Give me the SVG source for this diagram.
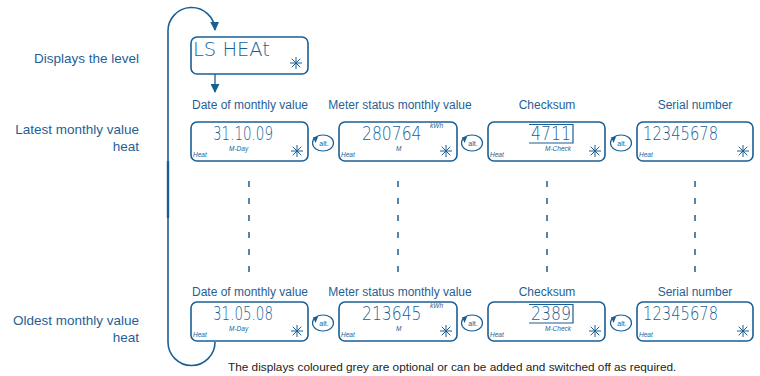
<svg xmlns="http://www.w3.org/2000/svg" xmlns:xlink="http://www.w3.org/1999/xlink" width="760" height="376" viewBox="0 0 760 376">
<style>
.lbl{font-family:"Liberation Sans",Arial,sans-serif;font-size:12px;fill:#1f5f96;text-anchor:middle}
.side{font-family:"Liberation Sans",Arial,sans-serif;font-size:13.5px;fill:#1f5f96;text-anchor:end}
.cap{font-family:"Liberation Sans",Arial,sans-serif;font-size:11.8px;fill:#222}
.box{fill:#fff;stroke:#1a5f94;stroke-width:1.6}
.lcd{font-family:"DejaVu Sans","Liberation Sans",sans-serif;font-size:20px;fill:#1a5f94;font-weight:200}
.sm{font-family:"Liberation Sans",Arial,sans-serif;font-size:6.5px;font-style:italic;fill:#1a5f94}
.ln{stroke:#1a5f94;fill:none}
.dash{stroke:#1a5f94;stroke-width:1.5;stroke-dasharray:6 11}
</style>
<defs>
<marker id="ah" viewBox="0 0 10 10" refX="9" refY="5" markerWidth="9" markerHeight="9" markerUnits="userSpaceOnUse" orient="auto">
<path d="M0,0 L10,5 L0,10 z" fill="#1a5f94"/>
</marker>
<g id="star" stroke="#1a5f94" stroke-width="1">
<line x1="-6" y1="0" x2="6" y2="0"/><line x1="0" y1="-6" x2="0" y2="6"/>
<line x1="-4.3" y1="-4.3" x2="4.3" y2="4.3"/><line x1="-4.3" y1="4.3" x2="4.3" y2="-4.3"/>
</g>
<g id="alt">
<ellipse cx="0" cy="0" rx="10.5" ry="8" fill="#fff" stroke="#1a5f94" stroke-width="1.2"/>
<path d="M-10,-6 L-5,-6 L-7.5,0 z" fill="#1a5f94"/>
<text x="1" y="2.5" font-family="Liberation Sans,Arial,sans-serif" font-size="7" fill="#1a5f94" text-anchor="middle">alt.</text>
</g>
</defs>

<g id="connectors">
<path class="ln" d="M168,342 L168,32 A23.5,23.5 0 0 1 215,30" stroke="#5f8fc0" stroke-width="1.6" marker-end="url(#ah)"/>
<path class="ln" d="M168,342 A23.5,23.5 0 0 0 215,342" stroke="#5f8fc0" stroke-width="1.6"/>
<line x1="168" y1="161" x2="168" y2="218" stroke="#1a5f94" stroke-width="2.4"/>
<line class="ln" x1="215" y1="74" x2="215" y2="92" stroke-width="1.3" marker-end="url(#ah)"/>
<line class="dash" x1="249" y1="181" x2="249" y2="272"/>
<line class="dash" x1="398" y1="181" x2="398" y2="272"/>
<line class="dash" x1="547" y1="181" x2="547" y2="272"/>
<line class="dash" x1="695" y1="181" x2="695" y2="272"/>
<use xlink:href="#alt" x="323" y="143"/>
<use xlink:href="#alt" x="472" y="143"/>
<use xlink:href="#alt" x="621" y="143"/>
<use xlink:href="#alt" x="323" y="323"/>
<use xlink:href="#alt" x="472" y="323"/>
<use xlink:href="#alt" x="621" y="323"/>
</g>

<g id="labels">
<text class="side" x="139" y="63">Displays the level</text>
<text class="side" x="139" y="134">Latest monthly value</text>
<text class="side" x="139" y="151">heat</text>
<text class="side" x="139" y="325">Oldest monthly value</text>
<text class="side" x="139" y="342">heat</text>
<text class="lbl" x="250" y="109">Date of monthly value</text>
<text class="lbl" x="400" y="109">Meter status monthly value</text>
<text class="lbl" x="547" y="109">Checksum</text>
<text class="lbl" x="695" y="109">Serial number</text>
<text class="lbl" x="250" y="296">Date of monthly value</text>
<text class="lbl" x="400" y="296">Meter status monthly value</text>
<text class="lbl" x="547" y="296">Checksum</text>
<text class="lbl" x="695" y="296">Serial number</text>
<text class="cap" x="228" y="371">The displays coloured grey are optional or can be added and switched off as required.</text>
</g>

<g id="level">
<rect class="box" x="191" y="37" width="117" height="37" rx="6"/>
<text class="lcd" x="193" y="56" textLength="77" lengthAdjust="spacingAndGlyphs">LS  HEAt</text>
<use xlink:href="#star" x="296" y="63"/>
</g>

<g id="latest-date">
<rect class="box" x="191" y="122" width="117" height="39" rx="6"/>
<text class="lcd" x="213" y="140" textLength="60" lengthAdjust="spacingAndGlyphs">31.10.09</text>
<text class="sm" x="229" y="151">M-Day</text>
<text class="sm" x="193" y="157">Heat</text>
<use xlink:href="#star" x="297" y="151"/>
</g>
<g id="latest-meter">
<rect class="box" x="339" y="122" width="118" height="39" rx="6"/>
<text class="lcd" transform="translate(362,140) scale(0.78,1)">280764</text>
<text class="sm" x="430" y="128" font-size="5.5">kWh</text>
<text class="sm" x="396" y="151">M</text>
<text class="sm" x="341" y="157">Heat</text>
<use xlink:href="#star" x="446" y="151"/>
</g>
<g id="latest-check">
<rect class="box" x="488" y="122" width="117" height="39" rx="6"/>
<path class="ln" d="M529,124.5 L573,124.5 L573,143 L529,143" stroke-width="1.2"/>
<text class="lcd" x="531" y="140" textLength="40" lengthAdjust="spacingAndGlyphs">4711</text>
<text class="sm" x="545" y="151">M-Check</text>
<text class="sm" x="490" y="157">Heat</text>
<use xlink:href="#star" x="595" y="151"/>
</g>
<g id="latest-serial">
<rect class="box" x="637" y="122" width="116" height="39" rx="6"/>
<text class="lcd" x="643" y="140" textLength="75" lengthAdjust="spacingAndGlyphs">12345678</text>
<text class="sm" x="639" y="157">Heat</text>
<use xlink:href="#star" x="743" y="151"/>
</g>

<g id="oldest-date">
<rect class="box" x="191" y="302" width="117" height="39" rx="6"/>
<text class="lcd" x="213" y="320" textLength="60" lengthAdjust="spacingAndGlyphs">31.05.08</text>
<text class="sm" x="229" y="331">M-Day</text>
<text class="sm" x="193" y="337">Heat</text>
<use xlink:href="#star" x="297" y="331"/>
</g>
<g id="oldest-meter">
<rect class="box" x="339" y="302" width="118" height="39" rx="6"/>
<text class="lcd" transform="translate(362,320) scale(0.78,1)">213645</text>
<text class="sm" x="430" y="308" font-size="5.5">kWh</text>
<text class="sm" x="396" y="331">M</text>
<text class="sm" x="341" y="337">Heat</text>
<use xlink:href="#star" x="446" y="331"/>
</g>
<g id="oldest-check">
<rect class="box" x="488" y="302" width="117" height="39" rx="6"/>
<path class="ln" d="M529,304.5 L573,304.5 L573,323 L529,323" stroke-width="1.2"/>
<text class="lcd" x="531" y="320" textLength="40" lengthAdjust="spacingAndGlyphs">2389</text>
<text class="sm" x="545" y="331">M-Check</text>
<text class="sm" x="490" y="337">Heat</text>
<use xlink:href="#star" x="595" y="331"/>
</g>
<g id="oldest-serial">
<rect class="box" x="637" y="302" width="116" height="39" rx="6"/>
<text class="lcd" x="643" y="320" textLength="75" lengthAdjust="spacingAndGlyphs">12345678</text>
<text class="sm" x="639" y="337">Heat</text>
<use xlink:href="#star" x="743" y="331"/>
</g>
</svg>
